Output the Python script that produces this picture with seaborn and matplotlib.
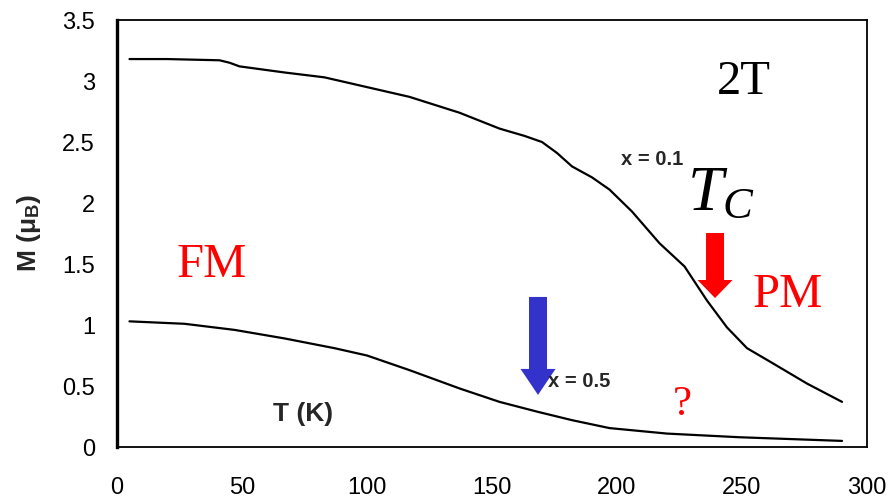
import numpy as np
import pandas as pd
import matplotlib
matplotlib.use("Agg")
import matplotlib.pyplot as plt
import seaborn as sns

# magnetisation curves
T_x01 = [5, 20, 41, 45, 49, 67, 83, 100, 117, 137, 153, 163, 170, 176, 182, 190, 197, 206, 217, 227, 236, 244, 252, 262, 276, 290]
M_x01 = [3.18, 3.18, 3.17, 3.15, 3.12, 3.07, 3.03, 2.95, 2.87, 2.74, 2.61, 2.55, 2.50, 2.41, 2.30, 2.21, 2.11, 1.93, 1.67, 1.48, 1.20, 0.98, 0.81, 0.69, 0.52, 0.37]

T_x05 = [5, 27, 47, 67, 87, 100, 117, 137, 153, 168, 182, 197, 220, 249, 290]
M_x05 = [1.03, 1.01, 0.96, 0.89, 0.81, 0.75, 0.63, 0.48, 0.37, 0.29, 0.22, 0.155, 0.11, 0.08, 0.05]

x_ticks = [0, 50, 100, 150, 200, 250, 300]
y_ticks = [0, 0.5, 1, 1.5, 2, 2.5, 3, 3.5]
y_ticklabels = ["0", "0.5", "1", "1.5", "2", "2.5", "3", "3.5"]

df = pd.concat([
    pd.DataFrame({"T": T_x01, "M": M_x01, "x": "0.1"}),
    pd.DataFrame({"T": T_x05, "M": M_x05, "x": "0.5"}),
])

sns.set_theme(style="white")
plt.rcParams["font.family"] = ["Liberation Sans", "DejaVu Sans"]
plt.rcParams["mathtext.fontset"] = "custom"
plt.rcParams["mathtext.it"] = "Liberation Serif:italic"
plt.rcParams["mathtext.rm"] = "Liberation Sans"
plt.rcParams["mathtext.bf"] = "Liberation Sans:bold"

fig = plt.figure(figsize=(8.91, 4.98), dpi=100)
ax = fig.add_axes([0.1313, 0.1024, 0.8418, 0.8574])

sns.lineplot(data=df, x="T", y="M", units="x", estimator=None, sort=False,
             color="black", lw=1.6, ax=ax, legend=False)

ax.set_xlim(0, 300)
ax.set_ylim(0, 3.5)
ax.set_xticks(x_ticks)
ax.set_yticks(y_ticks)
ax.set_yticklabels(y_ticklabels)
ax.set_xlabel("")
ax.set_ylabel(r"M (μ$_\mathbf{B}$)", fontsize=19, fontweight="bold", labelpad=14)

for s in ax.spines.values():
    s.set_visible(True)
    s.set_color("black")
    s.set_linewidth(1.3)
ax.spines["left"].set_linewidth(2.4)

ax.tick_params(axis="both", direction="inout", length=13.5, width=1.3,
               labelsize=17, colors="black")
ax.tick_params(axis="y", pad=9)
ax.tick_params(axis="x", pad=15)

# annotations
ax.text(74.4, 0.27, "T (K)", fontsize=19, fontweight="bold", ha="center", va="center")
ax.text(214, 2.36, "x = 0.1", fontsize=14.5, fontweight="bold", ha="center", va="center")
ax.text(185, 0.54, "x = 0.5", fontsize=14.5, fontweight="bold", ha="center", va="center")

serif = ["Liberation Serif", "DejaVu Serif"]
ax.text(250.8, 2.99, "2T", fontsize=35, family=serif, ha="center", va="center", color="black")
ax.text(38, 1.49, "FM", fontsize=35, family=serif, ha="center", va="center", color="red")
ax.text(268.4, 1.25, "PM", fontsize=35, family=serif, ha="center", va="center", color="red")
ax.text(226, 0.35, "?", fontsize=31, family=serif, ha="center", va="center", color="red")
ax.text(228, 1.94, r"$T_C$", fontsize=46, ha="left", va="baseline", color="black")

ax.arrow(239.2, 1.754, 0, -0.533, width=7.2, head_width=14, head_length=0.148,
         length_includes_head=True, color="#ff0000", lw=0)
ax.arrow(168.4, 1.23, 0, -0.803, width=7.2, head_width=14, head_length=0.213,
         length_includes_head=True, color="#3333cc", lw=0)

fig.savefig("out.png", dpi=100)
